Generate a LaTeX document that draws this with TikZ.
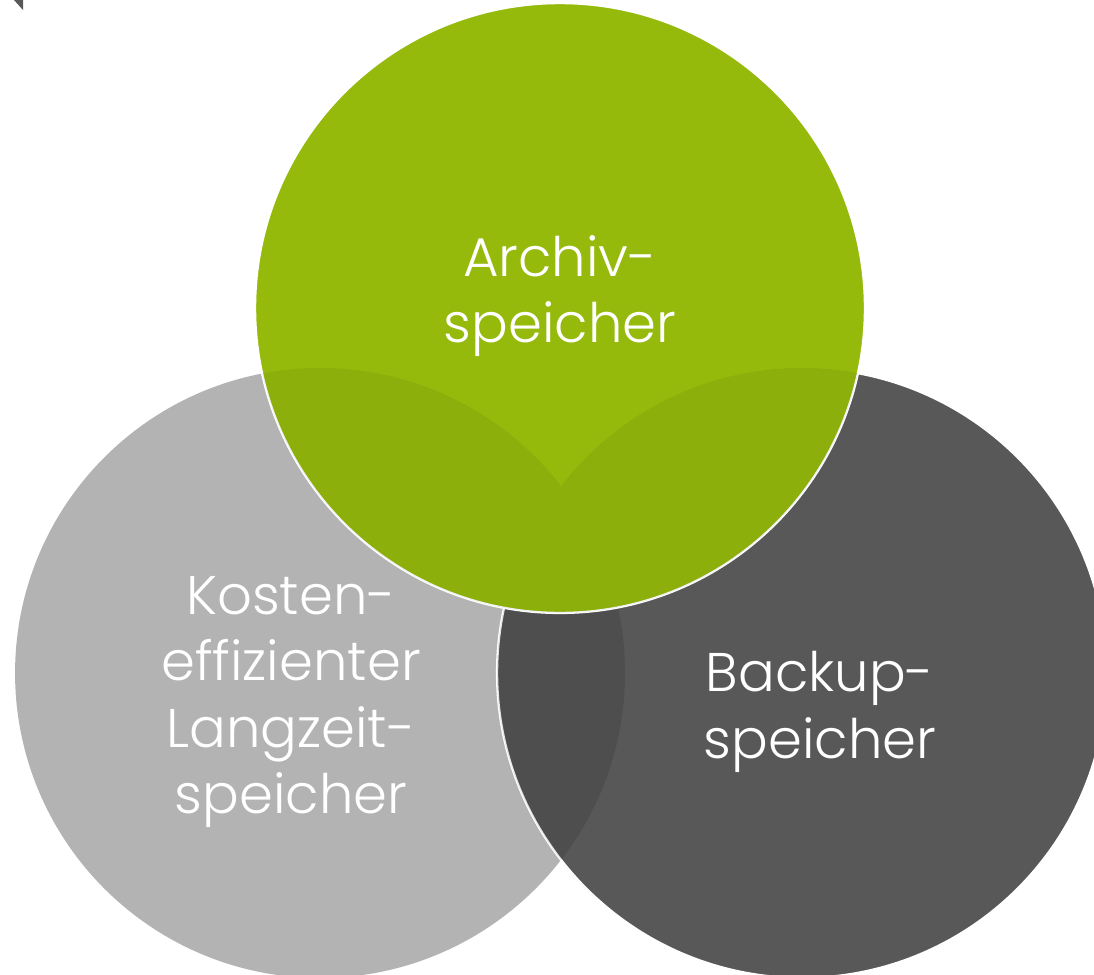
\documentclass[tikz,border=0pt]{standalone}
\usepackage{fontspec}
\setmainfont{Poppins}[UprightFont={* Light}]
\usepackage{xcolor}
\usepackage{tikz}
\usetikzlibrary{positioning}
\definecolor{archivgreen}{HTML}{95BA0C}
\definecolor{kostengray}{HTML}{B3B3B3}
\definecolor{backupgray}{HTML}{585858}
\tikzset{
  disc/.style = {circle, minimum size=12.2cm, inner sep=0pt},
  disctext/.style = {text=white, align=center, font=\fontsize{31}{37.8}\selectfont},
}
\newcommand{\rad}{305}

\begin{document}
\begin{tikzpicture}[x=0.02cm, y=-0.02cm]
        \useasboundingbox (0,0) rectangle (1094,974);
        \coordinate (cA) at (560,308);
        \coordinate (cK) at (320,673);
        \coordinate (cB) at (802,673);
        % corner mark
        \fill [backupgray] (14,0) -- (23,0) -- (23,10) -- cycle;

        \node (kosten) [disc, fill=kostengray] at (cK) {};
        \node (backup) [disc, fill=backupgray, draw=white, line width=1.3pt] at (cB) {};
        \begin{scope}
          \clip (cK) circle [radius=\rad];
          \fill [black, opacity=.11] (cB) circle [radius=\rad];
        \end{scope}

        \node (archiv) [disc, fill=archivgreen, draw=white, line width=1.3pt] at (cA) {};
        \begin{scope}
          \clip (cA) circle [radius=\rad];
          \fill [black, opacity=.06] (cK) circle [radius=\rad] (cB) circle [radius=\rad];
        \end{scope}

        \node (archivtext) [disctext] at (560,296) {Archiv-\\speicher};
        \node (kostentext) [disctext] at (291,702) {Kosten-\\effizienter\\Langzeit-\\speicher};
        \node (backuptext) [disctext] at (820,712) {Backup-\\speicher};
    \end{tikzpicture}
\end{document}
